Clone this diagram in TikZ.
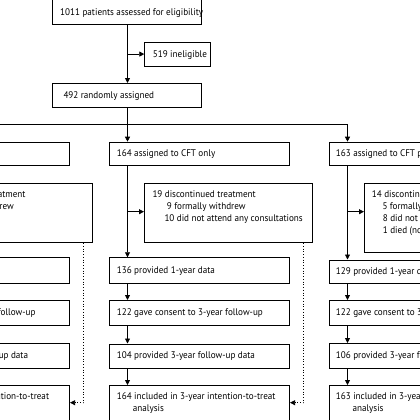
\documentclass[tikz,border=0pt]{standalone}
\usepackage{fontspec}
\setmainfont{PT Sans}[FakeStretch=0.95]
\usetikzlibrary{arrows.meta}
\tikzset{
  bx/.style={draw, line width=0.75pt, inner sep=0pt, anchor=north west},
  tx/.style={inner sep=0pt, anchor=base west, font=\fontsize{9.6}{12}\selectfont},
  txe/.style={tx, anchor=base east},
  ln/.style={line width=0.75pt},
  arr/.style={line width=0.75pt, -{Triangle[length=5pt,width=5pt]}},
  dots/.style={line width=0.75pt, dotted, -{Triangle[length=5pt,width=5pt]}}
}
\newcommand\mkbox[5]{\node[bx, minimum width={(#4-#2)*1pt}, minimum height={(#5-#3)*1pt}] (#1) at (#2,#3) {};}
\begin{document}
\begin{tikzpicture}[x=1pt,y=-1pt]
\useasboundingbox (0,0) rectangle (420,420);
\clip (0,0) rectangle (420,420);
% trunk coordinates
\coordinate (cL) at (-92.5,0);
\coordinate (cM) at (127.5,0);
\coordinate (cR) at (347.5,0);
\coordinate (split) at (127.5,124.3);
% top
\mkbox{elig}{52}{-0.5}{201}{24.3}
\node[tx] (teli) at (60,16) {1011 patients assessed for eligibility};
\mkbox{inel}{144.3}{41.7}{209.7}{65.7}
\node[tx] (tinel) at (152.7,57) {519 ineligible};
\mkbox{rand}{51.7}{83}{201}{107.3}
\node[tx] (trand) at (63.3,98.5) {492 randomly assigned};
\draw[arr] (elig.south -| cM) -- (rand.north -| cM);
\draw[arr] (inel.west -| cM) -- (inel.west);
\draw[ln] (rand.south -| cM) -- (split);
\draw[ln] (split -| cL) -- (split -| cR);
% assigned
\mkbox{asgL}{-111.3}{141.7}{69.3}{165}
\mkbox{asgM}{109}{141.7}{289.3}{165}
\mkbox{asgR}{329}{141.7}{509.3}{165}
\node[tx] (tasgM) at (116.7,156.6) {164 assigned to CFT only};
\node[tx] (tasgR) at (335.7,156.6) {163 assigned to CFT pl};
\foreach \c/\b in {cL/asgL,cM/asgM,cR/asgR}{\draw[arr] (split -| \c) -- (\b.north -| \c);}
% discontinued
\mkbox{discL}{-75.9}{182.7}{92.3}{242.3}
\mkbox{discM}{144}{182.7}{311.7}{242.3}
\mkbox{discR}{364}{182.7}{531.7}{251.7}
\node[txe] (tdL1) at (25.7,197.6) {atment};
\node[txe] (tdL2) at (14,209.6) {rew};
\node[tx] (tdM1) at (152.3,197.6) {19 discontinued treatment};
\node[tx] (tdM2) at (166.7,209.6) {9 formally withdrew};
\node[tx] (tdM3) at (164.3,221.6) {10 did not attend any consultations};
\node[tx] (tdR1) at (371.7,197.6) {14 discontinu};
\node[tx] (tdR2) at (382.3,209.6) {5 formally};
\node[tx] (tdR3) at (382.7,221.6) {8 did not a};
\node[tx] (tdR4) at (382.7,233.6) {1 died (no};
% rows
\mkbox{r1L}{-111.3}{257.3}{69.3}{283.3}
\mkbox{r1M}{109}{257.3}{289.3}{283.3}
\mkbox{r1R}{329}{259.5}{509.3}{283.3}
\mkbox{r2L}{-111.3}{300.3}{69.3}{325}
\mkbox{r2M}{109}{300}{289.3}{325}
\mkbox{r2R}{329}{300}{509.3}{325}
\mkbox{r3L}{-111.3}{343.3}{69.3}{367.8}
\mkbox{r3M}{109}{343.5}{289.3}{367.8}
\mkbox{r3R}{329}{343}{509.3}{367.6}
\mkbox{r4L}{-111.3}{385}{69.3}{419.5}
\mkbox{r4M}{109}{385}{289.3}{419.5}
\mkbox{r4R}{329}{385}{509.3}{419.5}
\node[tx] (t1M) at (116.7,273.6) {136 provided 1-year data};
\node[tx] (t1R) at (335.7,274.7) {129 provided 1-year da};
\node[txe] (t2L) at (35.7,315.8) {follow-up};
\node[tx] (t2M) at (116.7,315.8) {122 gave consent to 3-year follow-up};
\node[tx] (t2R) at (335.7,315.8) {122 gave consent to 3-};
\node[txe] (t3L) at (28.3,358.8) {up data};
\node[tx] (t3M) at (116.7,358.8) {104 provided 3-year follow-up data};
\node[tx] (t3R) at (335.7,358.8) {106 provided 3-year fo};
\node[txe] (t4L) at (49.3,399.3) {ation-to-treat};
\node[tx] (t4M) at (116.7,399.3) {164 included in 3-year intention-to-treat};
\node[tx] (t4Mb) at (132.7,411.6) {analysis};
\node[tx] (t4R) at (335.7,399.3) {163 included in 3-year};
\node[tx] (t4Rb) at (352.3,411.6) {analysis};
% column connectors
\foreach \c/\x/\col in {cL/-92.5/L,cM/127.5/M,cR/347.5/R}{
  \coordinate (b\col) at (\x,211.7);
  \draw[arr] (asg\col.south -| \c) -- (r1\col.north -| \c);
  \draw[arr] (b\col) -- (b\col -| disc\col.west);
  \draw[arr] (r1\col.south -| \c) -- (r2\col.north -| \c);
  \draw[arr] (r2\col.south -| \c) -- (r3\col.north -| \c);
  \draw[arr] (r3\col.south -| \c) -- (r4\col.north -| \c);
}
% dotted return lines
\coordinate (dL) at (83.3,402.7);
\coordinate (dM) at (303.3,402.7);
\draw[dots] (discL.south -| dL) -- (dL) -- (dL -| r4L.east);
\draw[dots] (discM.south -| dM) -- (dM) -- (dM -| r4M.east);
\end{tikzpicture}
\end{document}
